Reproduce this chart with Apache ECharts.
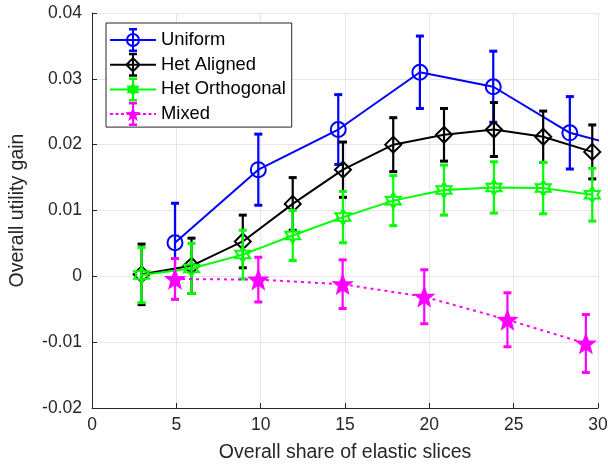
<!DOCTYPE html>
<html>
<head>
<meta charset="utf-8">
<script src="https://cdn.jsdelivr.net/npm/echarts@6/dist/echarts.min.js"></script>
<style>
  html, body { margin: 0; padding: 0; background: #fff; }
  #chart { width: 608px; height: 464px; }
</style>
</head>
<body>
<div id="chart"></div>
<script>
// 数据
var xTicks = [0, 5, 10, 15, 20, 25, 30];
var yTicks = [-0.02, -0.01, 0, 0.01, 0.02, 0.03, 0.04];
var names = ['Uniform', 'Het Aligned', 'Het Orthogonal', 'Mixed'];

var uniformX = [4.92, 9.86, 14.6, 19.44, 23.79, 28.33, 31.3];
var uniformY = [0.0051, 0.0162, 0.0223, 0.0310, 0.0288, 0.0218, 0.0198];
var uniformErr = [0.0060, 0.0054, 0.0053, 0.0055, 0.0054, 0.0055, 0.0054];

var alignedX = [2.94, 5.9, 8.94, 11.9, 14.88, 17.86, 20.87, 23.83, 26.75, 29.66];
var alignedY = [0.0003, 0.0016, 0.0053, 0.0110, 0.0162, 0.0200, 0.0215, 0.0223, 0.0212, 0.0189];
var alignedErr = [0.0046, 0.0042, 0.0040, 0.0040, 0.0042, 0.0041, 0.0040, 0.0041, 0.0039, 0.0041];

var orthoX = [2.94, 5.9, 8.94, 11.9, 14.88, 17.86, 20.87, 23.83, 26.75, 29.66];
var orthoY = [0.0002, 0.0012, 0.0033, 0.0062, 0.0090, 0.0115, 0.0131, 0.0135, 0.0134, 0.0124];
var orthoErr = [0.0042, 0.0038, 0.0037, 0.0038, 0.0039, 0.0038, 0.0038, 0.0039, 0.0039, 0.0040];

var mixedX = [4.92, 9.86, 14.86, 19.7, 24.63, 29.28];
var mixedY = [-0.0004, -0.0005, -0.0012, -0.0031, -0.0066, -0.0102];
var mixedErr = [0.0031, 0.0034, 0.0037, 0.0041, 0.0041, 0.0044];

var FONT = 'Liberation Sans';
var AXIS_COLOR = '#262626';
var BLUE = '#0000ff', BLACK = '#000000', GREEN = '#00ff00', MAGENTA = '#ff00ff';

// star polygon points (clockwise on screen)
function starPts(n, inner, cx, cy, r) {
  var pts = [];
  for (var i = 0; i < 2 * n; i++) {
    var rr = (i % 2 === 0) ? r : r * inner;
    var a = Math.PI * i / n - Math.PI / 2;
    pts.push((cx + rr * Math.cos(a)).toFixed(2) + ' ' + (cy + rr * Math.sin(a)).toFixed(2));
  }
  return 'M' + pts.join(' L') + ' Z';
}
function starPath(n, inner) {
  return 'path://' + starPts(n, inner, 50, 50, 50);
}

// 图例图标: line + error bar + marker, in a 46x24 box
function legendIcon(marker, dotted) {
  var p = '';
  if (dotted) {
    for (var x = 0; x < 46; x += 5.5) {
      p += 'M' + x + ' 11 L' + Math.min(x + 3, 46) + ' 11 L' + Math.min(x + 3, 46) + ' 13 L' + x + ' 13 Z ';
    }
    p += 'M45 11 L46 11 L46 13 L45 13 Z ';
  } else {
    p += 'M0 11 L46 11 L46 13 L0 13 Z ';
  }
  p += 'M22 0 L24 0 L24 24 L22 24 Z ';
  p += 'M19 0 L27 0 L27 2.5 L19 2.5 Z M19 21.5 L27 21.5 L27 24 L19 24 Z ';
  if (marker === 'circle') {
    p += 'M16 12 A7 7 0 1 1 30 12 A7 7 0 1 1 16 12 Z M18 12 A5 5 0 1 0 28 12 A5 5 0 1 0 18 12 Z';
  } else if (marker === 'diamond') {
    p += 'M23 4 L31 12 L23 20 L15 12 Z M23 6.8 L17.8 12 L23 17.2 L28.2 12 Z';
  } else if (marker === 'hex') {
    p += starPts(6, 0.577, 23, 12, 7.5);
  } else {
    p += starPts(5, 0.42, 23, 12.5, 8);
  }
  return 'path://' + p;
}

function pairs(xs, ys) {
  return xs.map(function (x, i) { return [x, ys[i]]; });
}
function triples(xs, ys, es) {
  return xs.map(function (x, i) { return [x, ys[i], es[i]]; });
}

// 误差棒
function errRender(color) {
  return function (params, api) {
    var x = api.value(0), y = api.value(1), e = api.value(2);
    var top = api.coord([x, y + e]);
    var bot = api.coord([x, y - e]);
    var w = 4;
    return {
      type: 'group',
      children: [
        { type: 'line', shape: { x1: top[0], y1: top[1], x2: bot[0], y2: bot[1] }, style: { stroke: color, lineWidth: 2.2 } },
        { type: 'line', shape: { x1: top[0] - w, y1: top[1], x2: top[0] + w, y2: top[1] }, style: { stroke: color, lineWidth: 3 } },
        { type: 'line', shape: { x1: bot[0] - w, y1: bot[1], x2: bot[0] + w, y2: bot[1] }, style: { stroke: color, lineWidth: 3 } }
      ]
    };
  };
}

function lineSeries(name, xs, ys, color, symbol, size, fill, dash, z) {
  return {
    name: name,
    type: 'line',
    data: pairs(xs, ys),
    z: z,
    clip: true,
    symbol: symbol,
    symbolSize: size,
    showAllSymbol: true,
    lineStyle: { color: color, width: 2, type: dash || 'solid' },
    itemStyle: { color: fill, borderColor: color, borderWidth: 2 },
    emphasis: { disabled: true },
    animation: false
  };
}

function errSeries(name, xs, ys, es, color, z) {
  return {
    name: name + ' err',
    type: 'custom',
    data: triples(xs, ys, es),
    encode: { x: 0, y: 1 },
    renderItem: errRender(color),
    clip: true,
    z: z,
    silent: true,
    animation: false
  };
}

var chart = echarts.init(document.getElementById('chart'), null, { renderer: 'canvas' });

var option = {
  backgroundColor: '#fff',
  animation: false,
  grid: { left: 92, right: 10, top: 13, bottom: 56, containLabel: false, outerBoundsMode: 'none' },
  legend: {
    orient: 'vertical',
    left: 106,
    top: 23,
    z: 10,
    backgroundColor: '#fff',
    borderColor: AXIS_COLOR,
    borderWidth: 1,
    borderRadius: 0,
    padding: [5, 6, 1, 4],
    itemWidth: 46,
    itemHeight: 24,
    itemGap: 0.7,
    selectedMode: false,
    symbolKeepAspect: true,
    textStyle: { fontFamily: FONT, fontSize: 18.4, color: '#000' },
    data: [
      { name: names[0], icon: legendIcon('circle', false), itemStyle: { color: BLUE, borderWidth: 0 } },
      { name: names[1], icon: legendIcon('diamond', false), itemStyle: { color: BLACK, borderWidth: 0 } },
      { name: names[2], icon: legendIcon('hex', false), itemStyle: { color: GREEN, borderWidth: 0 } },
      { name: names[3], icon: legendIcon('star', true), itemStyle: { color: MAGENTA, borderWidth: 0 } }
    ]
  },
  xAxis: {
    type: 'value',
    min: xTicks[0],
    max: xTicks[xTicks.length - 1],
    interval: 5,
    name: 'Overall share of elastic slices',
    nameLocation: 'middle',
    nameGap: 35,
    nameTextStyle: { fontFamily: FONT, fontSize: 19.5, color: AXIS_COLOR },
    axisLine: { onZero: false, lineStyle: { color: AXIS_COLOR, width: 1 } },
    axisTick: { inside: true, length: 5, lineStyle: { color: AXIS_COLOR } },
    axisLabel: { fontFamily: FONT, fontSize: 17.5, color: AXIS_COLOR, margin: 8 },
    splitLine: { show: true, lineStyle: { color: '#e6e6e6', width: 1 } }
  },
  yAxis: {
    type: 'value',
    min: yTicks[0],
    max: yTicks[yTicks.length - 1],
    interval: 0.01,
    name: 'Overall utility gain',
    nameLocation: 'middle',
    nameGap: 64,
    nameTextStyle: { fontFamily: FONT, fontSize: 19.5, color: AXIS_COLOR },
    axisLine: { show: true, onZero: false, lineStyle: { color: AXIS_COLOR, width: 1 } },
    axisTick: { show: true, inside: true, length: 5, lineStyle: { color: AXIS_COLOR } },
    axisLabel: {
      fontFamily: FONT, fontSize: 17.5, color: AXIS_COLOR, margin: 10,
      formatter: function (v) {
        var s = +(+v).toFixed(2);
        return Math.abs(s) < 1e-9 ? '0' : String(s);
      }
    },
    splitLine: { show: true, lineStyle: { color: '#e6e6e6', width: 1 } }
  },
  series: [
    errSeries(names[0], uniformX, uniformY, uniformErr, BLUE, 2),
    lineSeries(names[0], uniformX, uniformY, BLUE, 'circle', 15, 'rgba(0,0,0,0)', null, 2),
    errSeries(names[1], alignedX, alignedY, alignedErr, BLACK, 3),
    lineSeries(names[1], alignedX, alignedY, BLACK, 'diamond', 16, 'rgba(0,0,0,0)', null, 3),
    errSeries(names[2], orthoX, orthoY, orthoErr, GREEN, 4),
    lineSeries(names[2], orthoX, orthoY, GREEN, starPath(6, 0.577), 15, 'rgba(0,0,0,0)', null, 4),
    errSeries(names[3], mixedX, mixedY, mixedErr, MAGENTA, 5),
    lineSeries(names[3], mixedX, mixedY, MAGENTA, starPath(5, 0.42), 17, MAGENTA, [3, 4], 5)
  ]
};

chart.setOption(option);
</script>
</body>
</html>
